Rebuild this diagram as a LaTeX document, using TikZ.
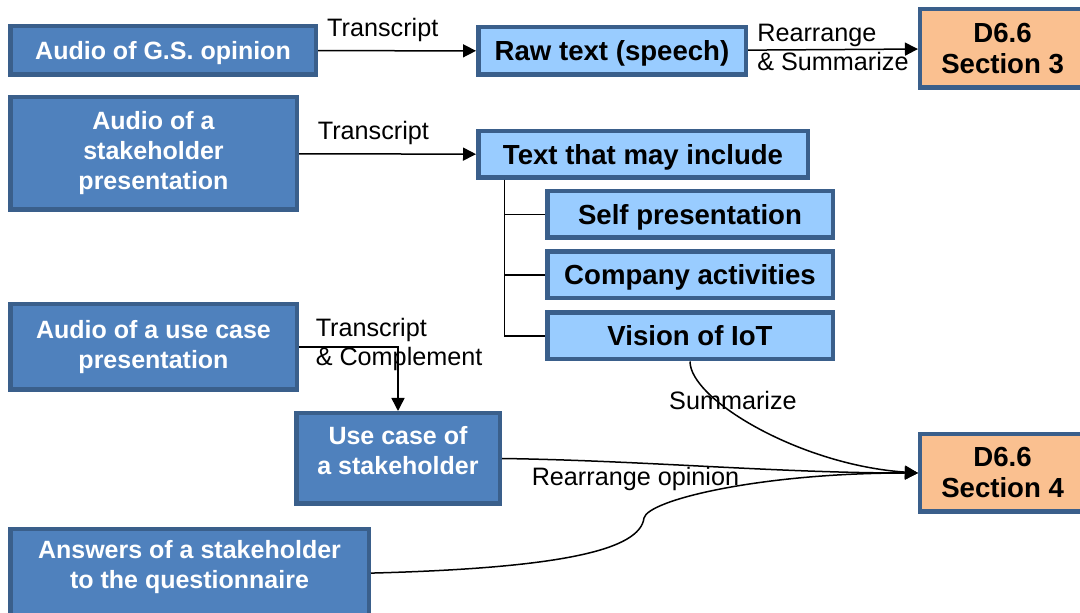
\documentclass[tikz,border=0pt]{standalone}
\usepackage{fontspec}
\setmainfont{Liberation Sans}
\usetikzlibrary{arrows.meta}

\definecolor{audioblue}{HTML}{4F81BD}
\definecolor{edgeblue}{HTML}{3A5F8B}
\definecolor{textblue}{HTML}{99CCFF}
\definecolor{docpeach}{HTML}{FAC090}

\begin{document}
\begin{tikzpicture}[x=0.5pt, y=-0.5pt, >={Triangle[length=6.5pt, width=6.5pt]},
    box/.style={draw=edgeblue, line width=2.25pt, inner sep=0pt, align=center},
    audio/.style={box, fill=audioblue, text=white, font=\bfseries\fontsize{12.5}{15}\selectfont},
    txtbox/.style={box, fill=textblue, text depth=0pt, font=\bfseries\fontsize{13.8}{15.5}\selectfont},
    doc/.style={box, fill=docpeach, font=\bfseries\fontsize{13.8}{15.5}\selectfont},
    lbl/.style={font=\fontsize{12.6}{14.5}\selectfont, inner sep=2pt},
    flow/.style={->, line width=0.75pt}]

    \useasboundingbox (0,0) rectangle (1080,613);

    % fontes de audio
    \node[audio, minimum width=152.75pt, minimum height=24.25pt, text depth=0pt] (gsaudio) at (163,50.5) {Audio of G.S. opinion};
    \node[audio, minimum width=143.25pt, minimum height=56.25pt] (presaudio) at (153.5,153.5) {Audio of a\\stakeholder\\presentation};
    \node[audio, minimum width=143.25pt, minimum height=42.75pt] (ucaudio) at (153.5,347) {Audio of a use case\\presentation};
    \node[audio, minimum width=101.75pt, minimum height=45.25pt, text depth=8pt] (usecase) at (398,458.5) {Use case of\\a stakeholder};
    \node[audio, minimum width=179.25pt, minimum height=43.9pt, text depth=8.5pt] (answers) at (189.5,573.1) {Answers of a stakeholder\\to the questionnaire};

    % textos
    \node[txtbox, minimum width=133.75pt, minimum height=23.75pt] (rawtext) at (612,51) {Raw text (speech)};
    \node[txtbox, minimum width=164.75pt, minimum height=23.25pt] (maytext) at (643,154.5) {Text that may include};
    \node[txtbox, minimum width=142.75pt, minimum height=23.25pt] (selfpres) at (690,214.5) {Self presentation};
    \node[txtbox, minimum width=142.75pt, minimum height=23.25pt] (compact) at (690,275) {Company activities};
    \node[txtbox, minimum width=142.75pt, minimum height=23.25pt] (iotvision) at (690,336) {Vision of IoT};

    % entregaveis
    \node[doc, minimum width=82.4pt, minimum height=39.25pt] (sec3) at (1002.6,48.5) {D6.6\\Section 3};
    \node[doc, minimum width=82.4pt, minimum height=38.75pt] (sec4) at (1002.6,473) {D6.6\\Section 4};

    % setas de cima
    \draw[flow] (gsaudio) -- (rawtext) node[lbl, above=2pt, pos=0.41] {Transcript};
    \draw[flow] (rawtext) -- (sec3) node[lbl, midway, align=left, yshift=1pt] {Rearrange\\\& Summarize};
    \draw[flow] (presaudio) -- (maytext) node[lbl, above=2pt, pos=0.42] {Transcript};

    % arvore do texto
    \draw[line width=0.75pt] ([xshift=14.25pt]maytext.south west) |- (selfpres);
    \draw[line width=0.75pt] ([xshift=14.25pt]maytext.south west) |- (compact);
    \draw[line width=0.75pt] ([xshift=14.25pt]maytext.south west) |- (iotvision);

    % caso de uso
    \draw[flow] (ucaudio) -| (usecase)
        node[lbl, right=6pt, pos=0, align=left, yshift=1.5pt] {Transcript\\\& Complement};

    % curvas para a secao 4
    \coordinate (kink) at (644,518);
    \draw[flow] (iotvision.south) .. controls +(0,38) and +(-118,-8) .. (sec4.west)
        node[lbl, pos=0.3, xshift=8pt] {Summarize};
    \draw[flow] (usecase.east) .. controls +(140,2) and +(-140,0) .. (sec4.west)
        node[lbl, below, pos=0.32] {Rearrange opinion};
    \draw[flow] (answers.east) .. controls +(190,-5) and +(-4,32) .. (kink)
        .. controls +(4,-18) and +(-158,0) .. (sec4.west);

\end{tikzpicture}
\end{document}
